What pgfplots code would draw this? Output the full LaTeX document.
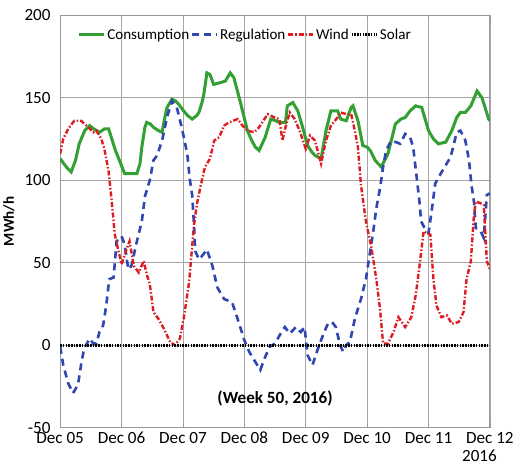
\documentclass[border=0pt]{standalone}
\usepackage{pgfplots}
\pgfplotsset{compat=1.18}
\usepackage{fontspec}
\setmainfont{Carlito}
\definecolor{cgreen}{RGB}{50,160,50}
\definecolor{cblue}{RGB}{50,70,175}
\definecolor{cred}{RGB}{220,30,35}
\begin{document}
\begin{tikzpicture}
\begin{axis}[
  scale only axis, width=427pt, height=410pt,
  xmin=0, xmax=7, ymin=-50, ymax=200,
  xtick={0,1,2,3,4,5,6,7},
  xticklabels={Dec 05,Dec 06,Dec 07,Dec 08,Dec 09,Dec 10,Dec 11,Dec 12},
  ytick={-50,0,50,100,150,200},
  /pgf/number format/assume math mode=true,
  ticklabel style={font=\fontsize{17}{20}\selectfont},
  xticklabel style={yshift=-1pt},
  yticklabel style={xshift=-6pt},
  ylabel={\textbf{MWh/h}},
  ylabel style={font=\fontsize{15}{18}\selectfont, yshift=3pt},
  grid=major,
  major grid style={gray!70, line width=0.8pt},
  axis line style={gray!80, line width=1pt},
  tick style={gray!80, line width=0.8pt},
  tick align=inside,
  legend columns=4,
  legend style={draw=none, fill=none, at={(axis description cs:0.43,0.975)}, anchor=north,
    font=\fontsize{15}{18}\selectfont, column sep=0pt, inner sep=1pt,
    nodes={inner xsep=1.5pt}},
  /pgfplots/legend image code/.code={\draw[#1] (0cm,0cm) -- (25pt,0cm);},
  clip mode=individual,
]
\addplot[cgreen, line width=3pt] coordinates {
(0,113) (0.1,108) (0.18,105) (0.25,112) (0.31,122) (0.4,130) (0.48,133) (0.55,131) (0.64,129) (0.72,131) (0.79,131) (0.9,118) (1.05,104) (1.15,104) (1.25,104) (1.3,110) (1.33,120) (1.38,132) (1.41,135) (1.47,134) (1.52,132) (1.6,130) (1.66,129) (1.7,137) (1.74,144) (1.82,149) (1.88,148) (1.93,146) (2.01,142) (2.08,139) (2.15,137) (2.22,139) (2.26,141) (2.31,147) (2.34,152) (2.39,165) (2.44,164) (2.5,158) (2.6,159) (2.69,160) (2.77,165) (2.83,162) (2.93,148) (3.05,130) (3.12,124) (3.18,120) (3.24,118) (3.34,126) (3.43,137) (3.51,136) (3.57,135) (3.67,135) (3.7,145) (3.79,147) (3.87,142) (3.95,132) (4.03,121) (4.1,117) (4.15,115) (4.25,113) (4.33,130) (4.41,142) (4.52,142) (4.57,137) (4.66,136) (4.74,144) (4.77,145) (4.85,136) (4.93,121) (5.0,120) (5.05,118) (5.13,112) (5.23,108) (5.34,116) (5.46,134) (5.55,137) (5.62,138) (5.7,142) (5.79,145) (5.89,144) (6.0,130) (6.08,125) (6.16,122) (6.28,123) (6.38,130) (6.46,138) (6.52,141) (6.6,141) (6.69,145) (6.79,154) (6.87,150) (6.98,137) (7,136)
};
\addlegendentry{Consumption}
\addplot[cblue, line width=2.6pt, dash pattern=on 7pt off 5pt] coordinates {
(0,-1) (0.05,-12) (0.13,-23) (0.21,-29) (0.29,-24) (0.34,-12) (0.39,-2) (0.48,4) (0.54,1) (0.59,1) (0.64,8) (0.7,12) (0.75,24) (0.8,40) (0.87,41) (0.92,63) (1.0,66) (1.05,61) (1.11,46) (1.16,48) (1.25,63) (1.33,75) (1.38,90) (1.46,100) (1.52,112) (1.58,115) (1.66,124) (1.74,138) (1.82,148) (1.9,144) (1.98,132) (2.07,116) (2.11,101) (2.15,91) (2.18,73) (2.2,57) (2.26,52) (2.31,54) (2.39,58) (2.48,48) (2.56,35) (2.67,28) (2.8,26) (2.89,16) (3.0,3) (3.08,-4) (3.16,-9) (3.26,-15) (3.33,-8) (3.41,-1) (3.5,1) (3.59,7) (3.66,11) (3.74,7) (3.84,11) (3.92,8) (3.98,11) (4.03,-6) (4.11,-12) (4.2,-2) (4.28,6) (4.36,13) (4.43,14) (4.49,11) (4.56,0) (4.61,-4) (4.66,0) (4.72,2) (4.8,16) (4.9,28) (4.98,40) (5.05,57) (5.1,69) (5.15,83) (5.21,95) (5.26,108) (5.31,118) (5.39,124) (5.47,123) (5.54,122) (5.62,128) (5.7,126) (5.75,120) (5.8,104) (5.85,88) (5.88,75) (5.95,70) (6.0,68) (6.05,81) (6.11,98) (6.2,104) (6.28,109) (6.36,114) (6.46,129) (6.52,130) (6.6,124) (6.66,112) (6.7,97) (6.74,87) (6.77,71) (6.85,69) (6.9,65) (6.95,91) (7,92)
};
\addlegendentry{Regulation}
\addplot[cred, line width=2.4pt, dash pattern=on 5pt off 2pt on 1.5pt off 2pt] coordinates {
(0,116) (0.05,125) (0.13,131) (0.23,136) (0.34,136) (0.46,132) (0.54,129) (0.59,130) (0.67,125) (0.72,119) (0.79,105) (0.84,87) (0.89,67) (0.95,57) (1.0,49) (1.08,58) (1.13,63) (1.2,48) (1.28,44) (1.36,51) (1.41,43) (1.46,37) (1.52,20) (1.6,16) (1.69,10) (1.79,2) (1.87,0) (1.95,4) (2.02,18) (2.1,38) (2.18,73) (2.23,86) (2.28,95) (2.34,105) (2.36,108) (2.44,113) (2.51,124) (2.59,126) (2.67,133) (2.75,135) (2.89,137) (2.97,133) (3.05,130) (3.16,129) (3.24,132) (3.38,140) (3.49,138) (3.57,137) (3.62,124) (3.67,132) (3.74,141) (3.82,137) (3.9,130) (4.0,119) (4.07,127) (4.15,124) (4.25,110) (4.33,124) (4.41,133) (4.52,138) (4.57,141) (4.66,140) (4.74,140) (4.8,130) (4.85,120) (4.9,97) (4.98,75) (5.07,59) (5.15,40) (5.21,22) (5.26,1) (5.34,1) (5.43,8) (5.51,17) (5.62,11) (5.72,17) (5.79,30) (5.84,44) (5.92,69) (5.97,68) (6.03,67) (6.08,40) (6.13,24) (6.21,17) (6.3,18) (6.38,13) (6.49,14) (6.57,20) (6.62,40) (6.69,51) (6.74,79) (6.77,87) (6.85,86) (6.9,85) (6.95,51) (7,46)
};
\addlegendentry{Wind}
\addplot[black, line width=3pt, dash pattern=on 1.5pt off 1.2pt] coordinates {
(0,0) (7,0)
};
\addlegendentry{Solar}
\node[font=\bfseries\fontsize{17}{20}\selectfont] at (axis cs:3.5,-32) {(Week 50, 2016)};
\node[font=\fontsize{17}{20}\selectfont, anchor=north] at (axis cs:6.83,-50) [yshift=-19pt] {2016};
\end{axis}
\path (current axis.north west) ++(0,15pt) coordinate (topmargin);
\end{tikzpicture}
\end{document}
